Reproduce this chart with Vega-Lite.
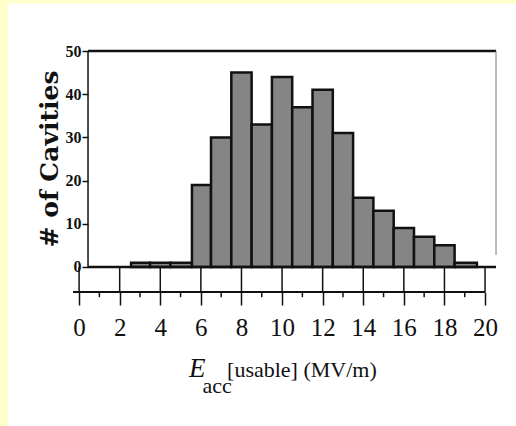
{
  "$schema": "https://vega.github.io/schema/vega-lite/v6.json",
  "width": 423,
  "height": 241,
  "autosize": {"type": "none"},
  "padding": {"left": 73, "top": 51, "right": 20, "bottom": 134},
  "background": "#FFFFCC",
  "config": {"view": {"stroke": null}},
  "data": {"values": [{}]},
  "datasets": {
    "bins": [
      {"lo": 2.56, "hi": 3.5, "n": 1},
      {"lo": 3.5, "hi": 4.5, "n": 1},
      {"lo": 4.5, "hi": 5.56, "n": 1},
      {"lo": 5.56, "hi": 6.5, "n": 19},
      {"lo": 6.5, "hi": 7.5, "n": 30},
      {"lo": 7.5, "hi": 8.5, "n": 45},
      {"lo": 8.5, "hi": 9.5, "n": 33},
      {"lo": 9.5, "hi": 10.5, "n": 44},
      {"lo": 10.5, "hi": 11.5, "n": 37},
      {"lo": 11.5, "hi": 12.5, "n": 41},
      {"lo": 12.5, "hi": 13.5, "n": 31},
      {"lo": 13.5, "hi": 14.5, "n": 16},
      {"lo": 14.5, "hi": 15.5, "n": 13},
      {"lo": 15.5, "hi": 16.5, "n": 9},
      {"lo": 16.5, "hi": 17.5, "n": 7},
      {"lo": 17.5, "hi": 18.5, "n": 5},
      {"lo": 18.5, "hi": 19.6, "n": 1}
    ],
    "evens": [{"v": 0}, {"v": 2}, {"v": 4}, {"v": 6}, {"v": 8}, {"v": 10}, {"v": 12}, {"v": 14}, {"v": 16}, {"v": 18}, {"v": 20}],
    "odds": [{"v": 1}, {"v": 3}, {"v": 5}, {"v": 7}, {"v": 9}, {"v": 11}, {"v": 13}, {"v": 15}, {"v": 17}, {"v": 19}]
  },
  "layer": [
    {
      "mark": {"type": "rect", "fill": "white"},
      "encoding": {
        "x": {
          "datum": -3.5, "type": "quantitative",
          "scale": {"domain": [-0.3, 20.54], "nice": false, "zero": false},
          "axis": {
            "values": [0, 2, 4, 6, 8, 10, 12, 14, 16, 18, 20],
            "domain": false, "grid": false, "zindex": 1,
            "tickSize": 13, "tickWidth": 1.5, "tickColor": "#111",
            "labelFont": "Liberation Serif", "labelFontSize": 25, "labelColor": "#111",
            "labelPadding": 10, "labelFlush": false, "labelOverlap": false,
            "title": null
          }
        },
        "x2": {"datum": 22},
        "y": {
          "datum": 61, "type": "quantitative",
          "scale": {"domain": [-5.8, 50], "nice": false, "zero": false},
          "axis": {
            "values": [0, 10, 20, 30, 40, 50],
            "offset": -15, "domain": false, "grid": false, "zindex": 1,
            "tickSize": 6, "tickWidth": 1.5, "tickColor": "#111",
            "labelFont": "Liberation Serif", "labelFontWeight": "bold", "labelFontSize": 16,
            "labelColor": "#111", "labelPadding": 1, "labelOverlap": false, "labelFlush": false,
            "title": null
          }
        },
        "y2": {"datum": -38}
      }
    },
    {
      "data": {"name": "evens"},
      "mark": {"type": "rule", "color": "#111", "strokeWidth": 1.5},
      "encoding": {
        "x": {"field": "v", "type": "quantitative"},
        "y": {"datum": 0},
        "y2": {"datum": -5.8}
      }
    },
    {
      "data": {"name": "odds"},
      "mark": {"type": "rule", "color": "#111", "strokeWidth": 1.5},
      "encoding": {
        "x": {"field": "v", "type": "quantitative"},
        "y": {"datum": -5.8},
        "y2": {"datum": -7.0}
      }
    },
    {
      "data": {"name": "bins"},
      "mark": {"type": "rect", "fill": "#858585", "stroke": "#111", "strokeWidth": 2.5},
      "encoding": {
        "x": {"field": "lo", "type": "quantitative"},
        "x2": {"field": "hi"},
        "y": {"field": "n", "type": "quantitative"},
        "y2": {"datum": 0}
      }
    },
    {
      "mark": {"type": "rule", "color": "#111", "strokeWidth": 2.5},
      "encoding": {"x": {"datum": 0.44}, "x2": {"datum": 20.54}, "y": {"datum": 50}}
    },
    {
      "mark": {"type": "rule", "color": "#111", "strokeWidth": 2.5},
      "encoding": {"x": {"datum": 0.44}, "x2": {"datum": 20.54}, "y": {"datum": 0}}
    },
    {
      "mark": {"type": "rule", "color": "#111", "strokeWidth": 1.5},
      "encoding": {"x": {"datum": 0.44}, "y": {"datum": 0}, "y2": {"datum": 50}}
    },
    {
      "mark": {"type": "rule", "color": "#777", "strokeWidth": 1},
      "encoding": {"x": {"datum": 20.54}, "y": {"datum": 2.8}, "y2": {"datum": 50}}
    },
    {
      "mark": {"type": "rule", "color": "#111", "strokeWidth": 2},
      "encoding": {"x": {"datum": -0.3}, "x2": {"datum": 20}, "y": {"datum": -5.8}}
    },
    {
      "mark": {"type": "text", "text": "# of Cavities", "angle": 270, "align": "center", "baseline": "middle",
               "font": "DejaVu Serif", "fontWeight": "bold", "fontSize": 25, "color": "#111"},
      "encoding": {"x": {"datum": -1.42}, "y": {"datum": 25}}
    },
    {
      "mark": {"type": "text", "text": "E", "align": "left", "baseline": "alphabetic",
               "font": "Liberation Serif", "fontStyle": "italic", "fontSize": 27, "color": "#111"},
      "encoding": {"x": {"datum": 5.41}, "y": {"datum": -25.4}}
    },
    {
      "mark": {"type": "text", "text": "acc", "align": "left", "baseline": "alphabetic",
               "font": "Liberation Serif", "fontSize": 22, "color": "#111"},
      "encoding": {"x": {"datum": 6.08}, "y": {"datum": -29.2}}
    },
    {
      "mark": {"type": "text", "text": "[usable]  (MV/m)", "align": "left", "baseline": "alphabetic",
               "font": "Liberation Serif", "fontSize": 22, "color": "#111"},
      "encoding": {"x": {"datum": 7.29}, "y": {"datum": -25.4}}
    }
  ]
}
